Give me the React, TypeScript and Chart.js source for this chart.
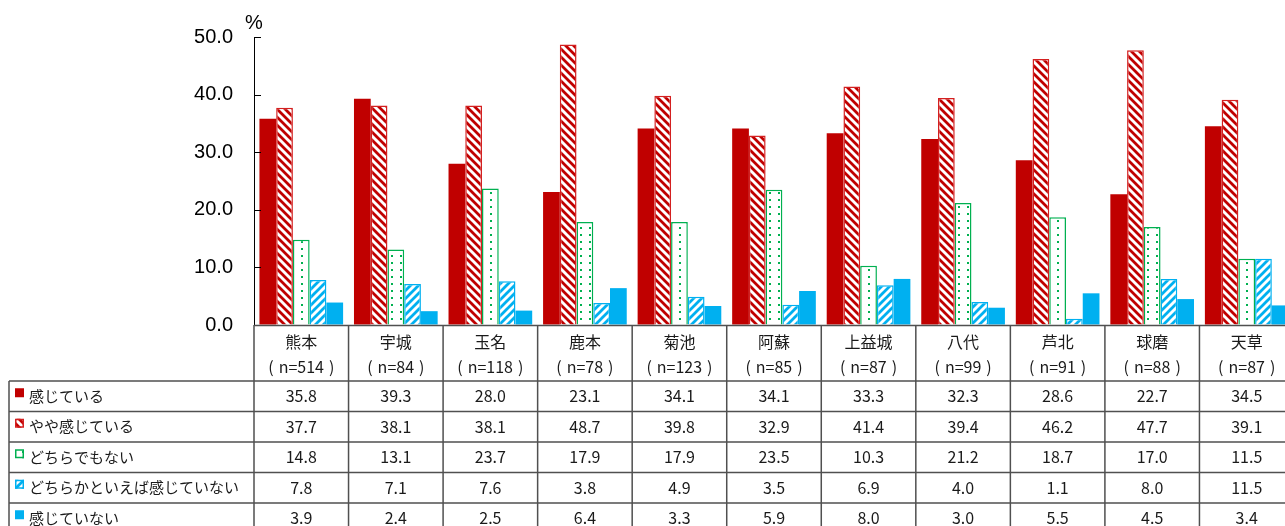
import React, { useEffect, useRef } from "react";
import { Chart, registerables } from "chart.js";

Chart.register(...registerables);

const categories = ["熊本", "宇城", "玉名", "鹿本", "菊池", "阿蘇", "上益城", "八代", "芦北", "球磨", "天草"];
const sampleSizes = [514, 84, 118, 78, 123, 85, 87, 99, 91, 88, 87];

const seriesNames = ["感じている", "やや感じている", "どちらでもない", "どちらかといえば感じていない", "感じていない"];
const feel = [35.8, 39.3, 28.0, 23.1, 34.1, 34.1, 33.3, 32.3, 28.6, 22.7, 34.5];
const somewhatFeel = [37.7, 38.1, 38.1, 48.7, 39.8, 32.9, 41.4, 39.4, 46.2, 47.7, 39.1];
const neither = [14.8, 13.1, 23.7, 17.9, 17.9, 23.5, 10.3, 21.2, 18.7, 17.0, 11.5];
const somewhatNot = [7.8, 7.1, 7.6, 3.8, 4.9, 3.5, 6.9, 4.0, 1.1, 8.0, 11.5];
const notFeel = [3.9, 2.4, 2.5, 6.4, 3.3, 5.9, 8.0, 3.0, 5.5, 4.5, 3.4];
const seriesValues = [feel, somewhatFeel, neither, somewhatNot, notFeel];

const yTicks = [0, 10, 20, 30, 40, 50];

const RED = "#C00000";
const GREEN = "#00B050";
const BLUE = "#00B0F0";

function stripePattern(color: string, dir: "back" | "fwd") {
  const c = document.createElement("canvas");
  c.width = 8;
  c.height = 8;
  const g = c.getContext("2d")!;
  g.fillStyle = "#ffffff";
  g.fillRect(0, 0, 8, 8);
  g.strokeStyle = color;
  g.lineWidth = 2.8;
  g.beginPath();
  if (dir === "back") {
    g.moveTo(-4, -4); g.lineTo(12, 12);
    g.moveTo(-4, 4); g.lineTo(4, 12);
    g.moveTo(4, -4); g.lineTo(12, 4);
  } else {
    g.moveTo(-4, 12); g.lineTo(12, -4);
    g.moveTo(-4, 4); g.lineTo(4, -4);
    g.moveTo(4, 12); g.lineTo(12, 4);
  }
  g.stroke();
  return g.createPattern(c, "repeat")!;
}

function dotPattern(color: string) {
  const c = document.createElement("canvas");
  c.width = 9;
  c.height = 7;
  const g = c.getContext("2d")!;
  g.fillStyle = "#ffffff";
  g.fillRect(0, 0, 9, 7);
  g.fillStyle = color;
  g.fillRect(4, 3, 2, 2);
  return g.createPattern(c, "repeat")!;
}

const TEXT_FONT = '"Noto Sans CJK JP", sans-serif';

export default function App() {
  const ref = useRef<HTMLCanvasElement | null>(null);

  useEffect(() => {
    const canvas = ref.current;
    if (!canvas) return;
    document.body.style.margin = "0";

    const fills: any[] = [RED, stripePattern(RED, "back"), dotPattern(GREEN), stripePattern(BLUE, "fwd"), BLUE];
    const borders = [RED, "#D42020", GREEN, BLUE, BLUE];
    const borderWidths = [0, 1.5, 1.5, 1.5, 0];

    const tablePlugin = {
      id: "dataTable",
      afterDraw(chart: any) {
        const ctx = chart.ctx as CanvasRenderingContext2D;
        const xs = chart.scales.x;
        const ys = chart.scales.y;
        const { left, right, bottom } = chart.chartArea;
        const n = categories.length;
        const catW = (right - left) / n;
        const headerBottom = bottom + 56;
        const rowH = 30.5;
        const tableLeft = 9;
        const endY = 540;

        ctx.save();
        // inner tick marks on y axis
        ctx.strokeStyle = "#000";
        ctx.lineWidth = 1;
        yTicks.forEach((t) => {
          const py = Math.round(ys.getPixelForValue(t)) + 0.5;
          ctx.beginPath();
          ctx.moveTo(left, py);
          ctx.lineTo(left + 7, py);
          ctx.stroke();
        });
        // % unit
        ctx.fillStyle = "#000";
        ctx.font = '20px "Liberation Sans", Arial, sans-serif';
        ctx.textAlign = "center";
        ctx.textBaseline = "middle";
        ctx.fillText("%", left, 23);

        // table lines
        ctx.strokeStyle = "#505050";
        ctx.lineWidth = 1.5;
        ctx.beginPath();
        ctx.moveTo(left, bottom + 0.5);
        ctx.lineTo(right + 5, bottom + 0.5);
        for (let r = 0; r < seriesNames.length; r++) {
          const y = headerBottom + r * rowH;
          ctx.moveTo(tableLeft, y);
          ctx.lineTo(right + 5, y);
        }
        ctx.moveTo(tableLeft, headerBottom);
        ctx.lineTo(tableLeft, endY);
        for (let i = 0; i <= n; i++) {
          const cx = i === n ? right : xs.getPixelForValue(i) - catW / 2;
          ctx.moveTo(cx, bottom);
          ctx.lineTo(cx, endY);
        }
        ctx.stroke();

        // header texts
        ctx.fillStyle = "#1a1a1a";
        ctx.textBaseline = "middle";
        ctx.font = "16px " + TEXT_FONT;
        categories.forEach((c, i) => {
          const cx = xs.getPixelForValue(i);
          ctx.textAlign = "center";
          ctx.fillText(c, cx, bottom + 17);
          const inner = "n=" + sampleSizes[i];
          const w = ctx.measureText(inner).width;
          ctx.fillText(inner, cx, bottom + 42);
          ctx.textAlign = "right";
          ctx.fillText("(", cx - w / 2 - 5, bottom + 42);
          ctx.textAlign = "left";
          ctx.fillText(")", cx + w / 2 + 5, bottom + 42);
        });

        // rows
        seriesNames.forEach((name, r) => {
          const cy = headerBottom + r * rowH + rowH / 2;
          // marker
          const mx = 15, my = cy - 8;
          ctx.fillStyle = fills[r];
          ctx.fillRect(mx, my, 9, 9);
          if (borderWidths[r] > 0) {
            ctx.strokeStyle = borders[r];
            ctx.lineWidth = 1.5;
            ctx.strokeRect(mx + 0.75, my + 0.75, 7.5, 7.5);
          }
          ctx.fillStyle = "#1a1a1a";
          ctx.textAlign = "left";
          ctx.font = "15px " + TEXT_FONT;
          ctx.fillText(name, 29, cy);
          ctx.textAlign = "center";
          ctx.font = "16px " + TEXT_FONT;
          seriesValues[r].forEach((v, i) => {
            ctx.fillText(v.toFixed(1), xs.getPixelForValue(i), cy);
          });
        });
        ctx.restore();
      },
    };

    const chart = new Chart(canvas, {
      type: "bar",
      data: {
        labels: categories,
        datasets: seriesNames.map((name, r) => ({
          label: name,
          data: seriesValues[r],
          backgroundColor: fills[r],
          borderColor: borders[r],
          borderWidth: borderWidths[r],
          borderSkipped: "bottom" as const,
          barPercentage: 1,
          categoryPercentage: 0.885,
        })),
      },
      options: {
        responsive: false,
        animation: false,
        events: [],
        layout: { padding: { top: 37, bottom: 201, left: 0, right: 0 } },
        plugins: { legend: { display: false }, tooltip: { enabled: false } },
        scales: {
          x: { display: false },
          y: {
            min: 0,
            max: 50,
            afterFit: (s: any) => { s.width = 254; },
            afterBuildTicks: (s: any) => { s.ticks = yTicks.map((v) => ({ value: v })); },
            border: { display: true, color: "#000", width: 1 },
            grid: { display: true, drawOnChartArea: false, drawTicks: false },
            ticks: {
              padding: 21,
              color: "#000",
              font: { family: '"Liberation Sans", Arial, sans-serif', size: 20 },
              callback: (v: any) => Number(v).toFixed(1),
            },
          },
        },
      },
      plugins: [tablePlugin],
    });

    return () => chart.destroy();
  }, []);

  return (
    <div style={{ position: "fixed", left: 0, top: 0, width: 1285, height: 526, overflow: "hidden", background: "#fff" }}>
      <canvas ref={ref} width={1294} height={526} style={{ width: 1294, height: 526, display: "block" }} />
    </div>
  );
}
